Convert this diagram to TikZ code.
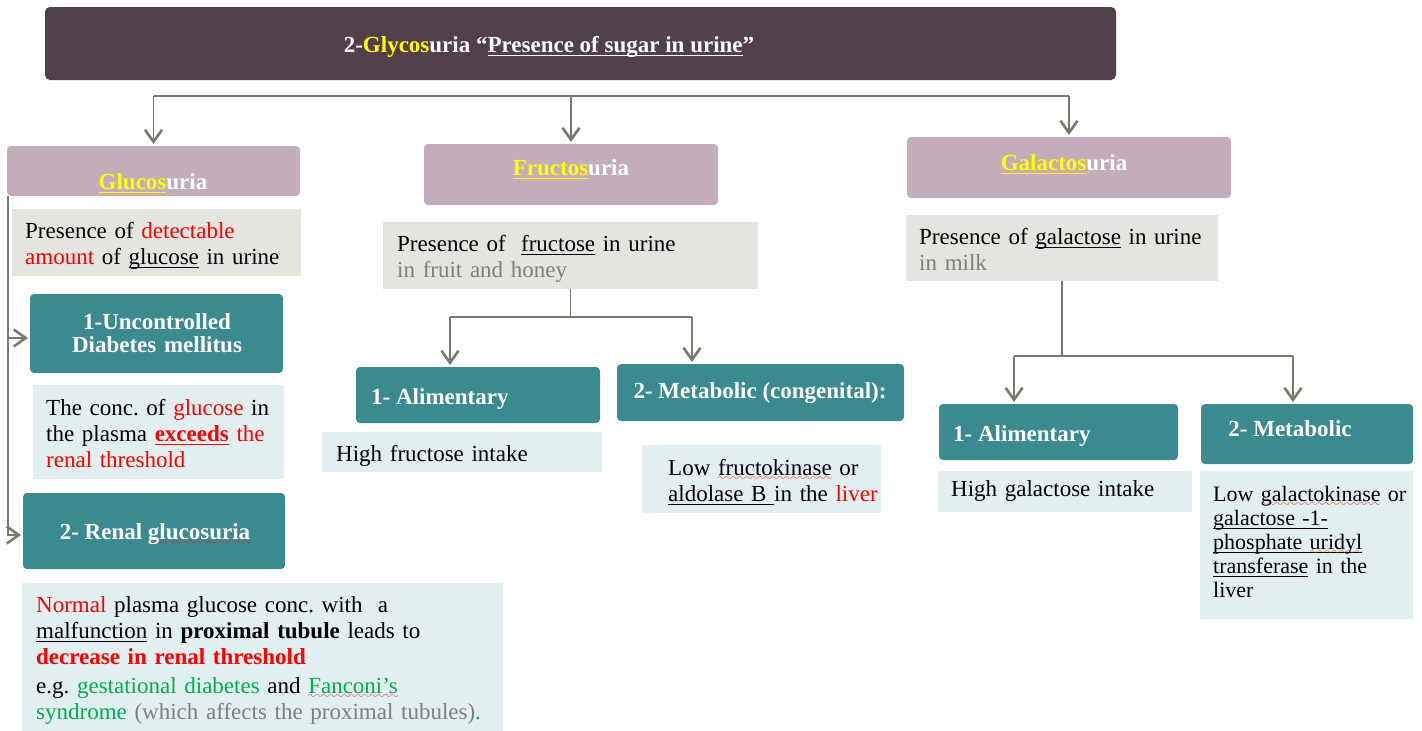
\documentclass[tikz,border=0pt]{standalone}
\usepackage{fontspec}
\setmainfont{Liberation Serif}
\usetikzlibrary{arrows.meta}

\definecolor{titlebg}{HTML}{514049}
\definecolor{hdrbg}{HTML}{C3ADB8}
\definecolor{descbg}{HTML}{E5E5E0}
\definecolor{tealbg}{HTML}{3B8A8F}
\definecolor{notebg}{HTML}{E1EFF0}
\definecolor{linecol}{HTML}{787A6D}
\definecolor{greytxt}{HTML}{7F7F7F}
\definecolor{okgreen}{HTML}{00B050}
\definecolor{hlyellow}{HTML}{FFFF00}

\frenchspacing
% underline in the current colour
\newcommand\ulx[1]{\leavevmode\setbox0=\hbox{#1}\rlap{\rule[-3.5pt]{\wd0}{1pt}}\box0\relax}
% red spell-check style wave under a word
\font\wavefont=lasy10
\newcommand\wavy[1]{\leavevmode\setbox0=\hbox{#1}\rlap{\smash{\lower5pt\hbox to\wd0{\color{red}\xleaders\hbox{\wavefont\char58}\hfil}}}\box0\relax}

% box from corner (#2,#3) to corner (#4,#5)
\newcommand\bx[6]{\node[#6, anchor=north west, minimum width={(#4-#2)*1pt}, minimum height={(#5-#3)*1pt}] (#1) at (#2,#3) {};}

\begin{document}
\begin{tikzpicture}[x=1pt,y=-1pt,
  boxbase/.style={inner sep=0pt, outer sep=0pt, draw=none},
  titlebox/.style={boxbase, fill=titlebg, rounded corners=5pt},
  hdrbox/.style={boxbase, fill=hdrbg, rounded corners=4pt},
  descbox/.style={boxbase, fill=descbg},
  tealbox/.style={boxbase, fill=tealbg, rounded corners=4pt},
  notebox/.style={boxbase, fill=notebg},
  txt/.style={inner sep=0pt, anchor=base west, align=left, text width=#1pt,
    font=\fontsize{23}{26}\selectfont},
  txt/.default=460,
  headtxt/.style={inner sep=0pt, anchor=base, align=center, text=white,
    font=\fontsize{23}{23}\selectfont\bfseries},
  headl/.style={inner sep=0pt, anchor=base west, text=white,
    font=\fontsize{23}{23}\selectfont\bfseries},
  conn/.style={draw=linecol, line width=1.7pt},
  arr/.style={conn, -{Straight Barb[length=12pt,width=17pt,line width=2.6pt]}, shorten >=2pt}
]
\useasboundingbox (0,0) rectangle (1422,731);

% ---- title ----
\bx{title}{45}{7}{1116}{80}{titlebox}
\node[headtxt] (title-t) at (549,52) {2-\textcolor{hlyellow}{Glycos}uria “\ulx{Presence of sugar in urine}”};

% ---- three kinds ----
\bx{glu}{7}{146}{300}{196}{hdrbox}
\node[headtxt] (glu-t) at (153,189) {\textcolor{hlyellow}{\ulx{Glucos}}uria};
\bx{fru}{424}{144}{718}{205}{hdrbox}
\node[headtxt] (fru-t) at (571,175) {\textcolor{hlyellow}{\ulx{Fructos}}uria};
\bx{gal}{907}{137}{1231}{198}{hdrbox}
\node[headtxt] (gal-t) at (1064,170) {\textcolor{hlyellow}{\ulx{Galactos}}uria};

\bx{gdesc}{12}{209}{301}{276}{descbox}
\node[txt=280] (gdesc-t) at (25,238) {Presence of \textcolor{red}{detectable}\\\textcolor{red}{amount} of \ulx{glucose} in urine};
\bx{fdesc}{383}{222}{758}{289}{descbox}
\node[txt=350] (fdesc-t) at (397,251) {Presence of~~\ulx{fructose} in urine\\\textcolor{greytxt}{in fruit and honey}};
\bx{galdesc}{906}{215}{1218}{281}{descbox}
\node[txt=300] (galdesc-t) at (919,244) {Presence of \ulx{galactose} in urine\\\textcolor{greytxt}{in milk}};

% ---- glucosuria branch ----
\bx{unc}{30}{294}{283}{373}{tealbox}
\node[headtxt, text width=250pt] (unc-t) at (157,329) {1-Uncontrolled\\Diabetes mellitus};
\bx{conc}{33}{385}{284}{479}{notebox}
\node[txt=250] (conc-t) at (46,415) {The conc. of \textcolor{red}{glucose} in\\the plasma \textcolor{red}{\ulx{\textbf{exceeds}} the}\\\textcolor{red}{renal threshold}};
\bx{renal}{23}{493}{285}{569}{tealbox}
\node[headtxt] (renal-t) at (155,539) {2- Renal \wavy{glucosuria}};
\bx{renalnote}{22}{583}{503}{731}{notebox}
\node[txt=465] (renalnote-t) at (36,612) {\textcolor{red}{Normal} plasma glucose conc. with~ a\\\ulx{malfunction} in \textbf{proximal tubule} leads to\\\textcolor{red}{\textbf{decrease in renal threshold}}\\[3pt]e.g. \textcolor{okgreen}{gestational diabetes} and \textcolor{okgreen}{\wavy{Fanconi’s}}\\\textcolor{okgreen}{syndrome} \textcolor{greytxt}{(which affects the proximal tubules)}\textcolor{okgreen}{.}};

% ---- fructosuria branch ----
\bx{falim}{356}{367}{600}{423}{tealbox}
\node[headl] (falim-t) at (371,404) {1- Alimentary};
\bx{fhigh}{322}{432}{602}{472}{notebox}
\node[txt=260] (fhigh-t) at (336,461) {High fructose intake};
\bx{fmet}{617}{364}{904}{421}{tealbox}
\node[headtxt] (fmet-t) at (760,398) {2- Metabolic (congenital):};
\bx{flow}{642}{445}{881}{513}{notebox}
\node[txt=230] (flow-t) at (668,475) {Low \wavy{fructokinase} or\\\ulx{aldolase B\ }in the \textcolor{red}{liver}};

% ---- galactosuria branch ----
\bx{galim}{939}{404}{1178}{460}{tealbox}
\node[headl] (galim-t) at (953,441) {1- Alimentary};
\bx{ghigh}{938}{471}{1192}{512}{notebox}
\node[txt=240] (ghigh-t) at (951,496) {High galactose intake};
\bx{gmet}{1201}{404}{1413}{464}{tealbox}
\node[headtxt] (gmet-t) at (1290,436) {2- Metabolic};
\bx{glow}{1200}{471}{1413}{619}{notebox}
\node[txt=205, font=\fontsize{22}{24}\selectfont] (glow-t) at (1213,501) {Low \wavy{galactokinase} or\\\ulx{galactose -1-}\\\ulx{phosphate \wavy{uridyl}}\\\ulx{transferase} in the\\liver};

% ---- connectors ----
\coordinate (bus) at (0,96);
\draw[conn] (glu.north |- bus) -- (gal.north |- bus);
\draw[arr] (glu.north |- bus) -- (glu.north);
\draw[arr] (fru.north |- bus) -- (fru.north);
\draw[arr] (gal.north |- bus) -- (gal.north);

\draw[arr] ([xshift=0.8pt]glu.south west) |- ([yshift=-4pt]renal.west);
\draw[arr] ([xshift=0.8pt]glu.south west |- 0,338) -- (unc.west |- 0,338);

\coordinate (fa) at (450,317);
\coordinate (fb) at (692,317);
\draw[conn] (fdesc.south) -- (fdesc.south |- fa);
\draw[conn] (fa) -- (fb);
\draw[arr] (fa) -- (fa |- falim.north);
\draw[arr] (fb) -- (fb |- fmet.north);

\coordinate (ga) at (1014,356);
\coordinate (gb) at (1293,356);
\draw[conn] (galdesc.south) -- (galdesc.south |- ga);
\draw[conn] (ga) -- (gb);
\draw[arr] (ga) -- (ga |- galim.north);
\draw[arr] (gb) -- (gb |- gmet.north);
\end{tikzpicture}
\end{document}
